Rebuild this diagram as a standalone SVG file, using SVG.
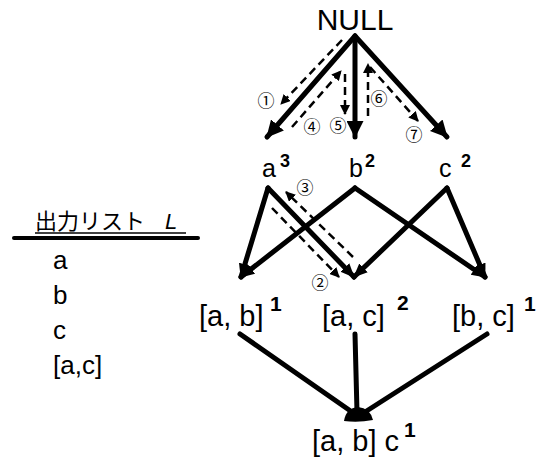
<svg xmlns="http://www.w3.org/2000/svg" width="541" height="474" viewBox="0 0 541 474">
<style>
.t{font-family:"Liberation Sans",Arial,sans-serif;fill:#000}
.sup{font-family:"Liberation Sans",Arial,sans-serif;font-weight:bold;fill:#000}
.cn{font-family:"Noto Sans CJK JP","DejaVu Sans",sans-serif;font-size:17px;fill:#000}
.jp{font-family:"Noto Sans CJK JP",sans-serif;fill:#000}
.s{stroke:#000;stroke-width:5;fill:none;stroke-linecap:round}
.d{stroke:#000;stroke-width:2.5;fill:none;stroke-dasharray:8,5}
</style>
<defs>
<marker id="ah" viewBox="0 0 16 16" refX="15" refY="8" markerWidth="17" markerHeight="17" markerUnits="userSpaceOnUse" orient="auto">
<path d="M0,0 L16,8 L0,16 z" fill="#000"/>
</marker>
<marker id="ah2" viewBox="0 0 16 16" refX="15" refY="8" markerWidth="14" markerHeight="14" markerUnits="userSpaceOnUse" orient="auto">
<path d="M0,1 L16,8 L0,15 z" fill="#000"/>
</marker>
<marker id="dh" viewBox="0 0 10 10" refX="9" refY="5" markerWidth="10" markerHeight="10" markerUnits="userSpaceOnUse" orient="auto">
<path d="M0,0 L10,5 L0,10 z" fill="#000"/>
</marker>
</defs>

<g id="connectors">
<line class="s" x1="355" y1="36" x2="267" y2="137" marker-end="url(#ah)"/>
<line class="s" x1="355" y1="36" x2="355" y2="137" marker-end="url(#ah)"/>
<line class="s" x1="355" y1="36" x2="447" y2="137" marker-end="url(#ah)"/>

<line class="s" x1="268" y1="188" x2="241" y2="277" marker-end="url(#ah2)"/>
<line class="s" x1="268" y1="188" x2="354" y2="277" marker-end="url(#ah2)"/>
<line class="s" x1="355" y1="188" x2="241" y2="277" marker-end="url(#ah2)"/>
<line class="s" x1="355" y1="188" x2="485" y2="277" marker-end="url(#ah2)"/>
<line class="s" x1="447" y1="188" x2="354" y2="277" marker-end="url(#ah2)"/>
<line class="s" x1="447" y1="188" x2="485" y2="277" marker-end="url(#ah2)"/>

<line class="s" x1="240" y1="334" x2="352" y2="412"/>
<line class="s" x1="355" y1="334" x2="357" y2="412"/>
<line class="s" x1="487" y1="334" x2="365" y2="412"/>
<path d="M344,421 Q346,408 358,407 Q370,408 373,420 Q358,423 344,421 z" fill="#000"/>

<line class="d" x1="342" y1="40" x2="281" y2="104" marker-end="url(#dh)"/>
<line class="d" x1="292" y1="127" x2="341" y2="71" marker-end="url(#dh)"/>
<line class="d" x1="345" y1="74" x2="345" y2="114" marker-end="url(#dh)"/>
<line class="d" x1="368" y1="116" x2="368" y2="64" marker-end="url(#dh)"/>
<line class="d" x1="370" y1="67" x2="418" y2="121" marker-end="url(#dh)"/>
<line class="d" x1="272" y1="208" x2="339" y2="277" marker-end="url(#dh)"/>
<line class="d" x1="353" y1="257" x2="286" y2="192" marker-end="url(#dh)"/>
</g>

<g id="labels">
<text class="cn" x="266" y="107" text-anchor="middle">①</text>
<text class="cn" x="320" y="289" text-anchor="middle">②</text>
<text class="cn" x="305" y="194" text-anchor="middle">③</text>
<text class="cn" x="312" y="133" text-anchor="middle">④</text>
<text class="cn" x="338" y="132" text-anchor="middle">⑤</text>
<text class="cn" x="379" y="105" text-anchor="middle">⑥</text>
<text class="cn" x="414" y="141" text-anchor="middle">⑦</text>
</g>

<g id="n-null"><text class="t" x="355" y="30" font-size="30" text-anchor="middle">NULL</text></g>
<g id="n-a"><text class="t" x="262" y="177" font-size="25">a</text><text class="sup" x="280" y="167" font-size="18">3</text></g>
<g id="n-b"><text class="t" x="349" y="177" font-size="25">b</text><text class="sup" x="365" y="167" font-size="18">2</text></g>
<g id="n-c"><text class="t" x="439" y="177" font-size="25">c</text><text class="sup" x="461" y="167" font-size="18">2</text></g>
<g id="n-ab"><text class="t" x="199" y="326" font-size="29">[a, b]</text><text class="sup" x="270" y="311" font-size="21">1</text></g>
<g id="n-ac"><text class="t" x="322" y="326" font-size="29">[a, c]</text><text class="sup" x="397" y="310" font-size="21">2</text></g>
<g id="n-bc"><text class="t" x="452" y="326" font-size="29">[b, c]</text><text class="sup" x="524" y="311" font-size="21">1</text></g>
<g id="n-abc"><text class="t" x="312" y="451" font-size="29">[a, b] c</text><text class="sup" x="404" y="437" font-size="21">1</text></g>

<g id="output-list">
<text class="jp" x="35" y="229" font-size="22">出力リスト</text>
<text x="165" y="229" font-size="22" font-family="Liberation Sans,sans-serif" font-style="italic">L</text>
<line x1="35" y1="233" x2="186" y2="233" stroke="#000" stroke-width="1.5"/>
<line x1="14" y1="238" x2="198" y2="238" stroke="#000" stroke-width="4" stroke-linecap="round"/>
<text class="t" x="53" y="269" font-size="26">a</text>
<text class="t" x="53" y="304" font-size="26">b</text>
<text class="t" x="53" y="339" font-size="26">c</text>
<text class="t" x="53" y="374" font-size="26">[a,c]</text>
</g>
</svg>
